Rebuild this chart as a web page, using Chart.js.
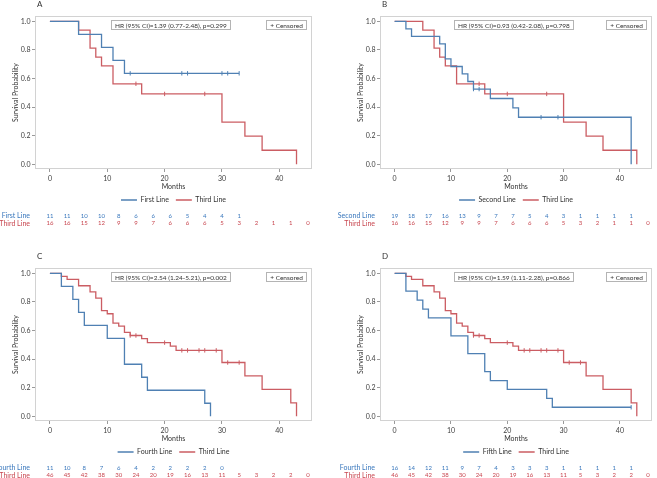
<!DOCTYPE html>
<html>
<head>
<meta charset="utf-8">
<script src="https://cdn.jsdelivr.net/npm/chart.js@4.4.1/dist/chart.umd.min.js"></script>
<style>
  html, body { margin: 0; padding: 0; background: #fff; }
  body { width: 657px; height: 478px; overflow: hidden; position: relative; }
  canvas { position: absolute; }
</style>
</head>
<body>
<canvas id="panelA" width="330" height="238" style="left:0;top:0"></canvas>
<canvas id="panelB" width="330" height="238" style="left:327px;top:0"></canvas>
<canvas id="panelC" width="330" height="238" style="left:0;top:252px"></canvas>
<canvas id="panelD" width="330" height="238" style="left:327px;top:252px"></canvas>
<script>
// shared axes
const xTicks = [0, 10, 20, 30, 40];
const yTicks = [0, 0.2, 0.4, 0.6, 0.8, 1.0];
const riskMonths = [0, 3, 6, 9, 12, 15, 18, 21, 24, 27, 30, 33, 36, 39, 42, 45];

// panel A - first line
const firstLineTimes = [0, 5, 9, 11, 13, 33];
const firstLineSurv = [1, 0.909, 0.818, 0.727, 0.636, 0.636];
const firstLineCensor = [14, 23, 24, 30, 31, 33];
const firstLineRisk = [11, 11, 10, 10, 8, 6, 6, 6, 5, 4, 4, 1];

// panels A/B - third line (n=16)
const thirdLineTimes = [0, 5, 7, 8, 9, 11, 16, 30, 34, 37, 43];
const thirdLineSurv = [1, 0.938, 0.813, 0.75, 0.688, 0.563, 0.492, 0.295, 0.197, 0.098, 0];
const thirdLineCensor = [15, 20, 27];
const thirdLineRisk = [16, 16, 15, 12, 9, 9, 7, 6, 6, 6, 5, 3, 2, 1, 1, 0];

// panel B - second line
const secondLineTimes = [0, 2, 3, 8, 9, 10, 12, 13, 14, 17, 21, 22, 42];
const secondLineSurv = [1, 0.947, 0.895, 0.842, 0.737, 0.684, 0.632, 0.579, 0.526, 0.46, 0.395, 0.329, 0];
const secondLineCensor = [14, 15, 26, 29];
const secondLineRisk = [19, 18, 17, 16, 13, 9, 7, 7, 5, 4, 3, 1, 1, 1, 1];

// panel C - fourth line
const fourthLineTimes = [0, 2, 4, 5, 6, 10, 13, 16, 17, 27, 28];
const fourthLineSurv = [1, 0.909, 0.818, 0.727, 0.636, 0.545, 0.364, 0.273, 0.182, 0.091, 0];
const fourthLineCensor = [];
const fourthLineRisk = [11, 10, 8, 7, 6, 4, 2, 2, 2, 2, 0];

// panels C/D - third line (n=46)
const third46Times = [0, 2, 3, 5, 7, 8, 9, 10, 11, 12, 13, 14, 16, 17, 21, 22, 30, 34, 37, 42, 43];
const third46Surv = [1, 0.978, 0.957, 0.913, 0.87, 0.826, 0.739, 0.717, 0.652, 0.63, 0.587, 0.565, 0.543, 0.515, 0.49, 0.461, 0.376, 0.282, 0.188, 0.094, 0];
const third46Censor = [14, 15, 20, 23, 24, 26, 27, 29, 31, 33];
const third46Risk = [46, 45, 42, 38, 30, 24, 20, 19, 16, 13, 11, 5, 3, 2, 2, 0];

// panel D - fifth line
const fifthLineTimes = [0, 2, 4, 5, 6, 10, 13, 16, 17, 20, 27, 28, 42];
const fifthLineSurv = [1, 0.875, 0.813, 0.75, 0.688, 0.563, 0.438, 0.313, 0.25, 0.188, 0.125, 0.063, 0.063];
const fifthLineCensor = [42];
const fifthLineRisk = [16, 14, 12, 11, 9, 7, 4, 3, 3, 3, 1, 1, 1, 1, 1];

const FONT = "Lato, 'Open Sans', sans-serif";
const BLUE = '#4f80b3';
const RED = '#cb5d63';
const BLUE_TXT = '#3a78bd';
const RED_TXT = '#c8464f';

function stepAt(times, surv, t) {
    let s = surv[0];
    for (let i = 0; i < times.length; i++) {
        if (times[i] <= t) s = surv[i];
    }
    return s;
}

const kmExtras = {
    id: 'kmExtras',
    beforeDatasetsDraw(chart) {
        const {ctx, chartArea: ca} = chart;
        ctx.save();
        ctx.strokeStyle = '#d2d2d2';
        ctx.lineWidth = 1;
        ctx.strokeRect(Math.round(ca.left) + 0.5, Math.round(ca.top) + 0.5,
            Math.round(ca.right - ca.left) - 1, Math.round(ca.bottom - ca.top) - 1);
        ctx.restore();
    },
    afterDraw(chart, args, opts) {
        const {ctx, chartArea: ca} = chart;
        const xs = chart.scales.x;
        ctx.save();

        // panel letter
        ctx.font = `8px ${FONT}`;
        ctx.fillStyle = '#333';
        ctx.textAlign = 'left';
        ctx.textBaseline = 'middle';
        ctx.fillText(opts.letter, ca.left + 2, 4);

        // HR box and censored box
        ctx.font = `6.5px ${FONT}`;
        const boxTop = Math.round(ca.top) + 4.5;
        const boxH = 9;
        const hrW = Math.round(ctx.measureText(opts.hr).width) + 7;
        const hrX = Math.round((ca.left + ca.right) / 2 - 3 - hrW / 2) + 0.5;
        ctx.fillStyle = '#fff';
        ctx.strokeStyle = '#b4b4b4';
        ctx.lineWidth = 1;
        ctx.fillRect(hrX, boxTop, hrW, boxH);
        ctx.strokeRect(hrX, boxTop, hrW, boxH);
        ctx.fillStyle = '#333';
        ctx.textAlign = 'center';
        ctx.fillText(opts.hr, hrX + hrW / 2, boxTop + boxH / 2 + 0.5);

        const cTxt = '+ Censored';
        const cW = Math.round(ctx.measureText(cTxt).width) + 7;
        const cX = Math.round(ca.right - 6 - cW) + 0.5;
        ctx.fillStyle = '#fff';
        ctx.fillRect(cX, boxTop, cW, boxH);
        ctx.strokeRect(cX, boxTop, cW, boxH);
        ctx.fillStyle = '#333';
        ctx.fillText(cTxt, cX + cW / 2, boxTop + boxH / 2 + 0.5);

        // numbers at risk
        opts.rows.forEach((row, r) => {
            const y = ca.bottom + 47 + r * 7.3;
            ctx.fillStyle = row.color;
            ctx.font = `7px ${FONT}`;
            ctx.textAlign = 'right';
            ctx.fillText(row.label, ca.left - 5, y);
            ctx.font = `6px ${FONT}`;
            ctx.textAlign = 'center';
            row.values.forEach((v, i) => {
                ctx.fillText(String(v), xs.getPixelForValue(riskMonths[i]), y);
            });
        });
        ctx.restore();
    }
};

function buildPanel(id, panel) {
    const datasets = [];
    panel.series.forEach(s => {
        datasets.push({
            label: s.name,
            data: s.times.map((t, i) => ({x: t, y: s.surv[i]})),
            borderColor: s.color,
            backgroundColor: s.color,
            borderWidth: 1.3,
            stepped: 'before',
            pointRadius: 0,
            fill: false
        });
    });
    panel.series.forEach(s => {
        datasets.push({
            label: s.name + ' censored',
            isCensor: true,
            data: s.censor.map(t => ({x: t, y: stepAt(s.times, s.surv, t)})),
            showLine: false,
            pointStyle: 'line',
            rotation: 90,
            pointRadius: 2.2,
            borderWidth: 1,
            borderColor: s.color,
            backgroundColor: s.color
        });
    });

    const ctx = document.getElementById(id).getContext('2d');
    return new Chart(ctx, {
        type: 'line',
        data: {datasets: datasets},
        options: {
            responsive: false,
            animation: false,
            devicePixelRatio: 1,
            layout: {padding: {left: panel.padLeft, right: panel.padRight, top: 16, bottom: 24.5}},
            scales: {
                x: {
                    type: 'linear',
                    min: -2.6,
                    max: 45.7,
                    afterBuildTicks: sc => { sc.ticks = xTicks.map(v => ({value: v})); },
                    afterFit: sc => { sc.height = 20.5; },
                    grid: {drawOnChartArea: false, drawTicks: true, tickLength: 3, color: '#9a9a9a'},
                    border: {display: false},
                    ticks: {font: {size: 7, family: FONT}, color: '#404040', padding: 3, maxRotation: 0},
                    title: {display: true, text: 'Months', font: {size: 7, family: FONT}, color: '#333', padding: {top: 0, bottom: -1.5}}
                },
                y: {
                    type: 'linear',
                    min: -0.033,
                    max: 1.037,
                    afterBuildTicks: sc => { sc.ticks = yTicks.map(v => ({value: v})); },
                    afterFit: sc => { sc.width = 24; },
                    grid: {drawOnChartArea: false, drawTicks: true, tickLength: 3, color: '#9a9a9a'},
                    border: {display: false},
                    ticks: {font: {size: 7, family: FONT}, color: '#404040', padding: 1.5, callback: v => v.toFixed(1)},
                    title: {display: true, text: 'Survival Probability', font: {size: 7, family: FONT}, color: '#333', padding: {top: 1, bottom: 0}}
                }
            },
            plugins: {
                legend: {
                    position: 'bottom',
                    fullSize: false,
                    labels: {
                        boxWidth: 16,
                        boxHeight: 0,
                        padding: 7,
                        color: '#333',
                        font: {size: 7, family: FONT},
                        filter: (item, data) => !data.datasets[item.datasetIndex].isCensor
                    }
                },
                tooltip: {enabled: false},
                kmExtras: {
                    letter: panel.letter,
                    hr: panel.hr,
                    rows: panel.series.map(s => ({label: s.riskLabel, color: s.textColor, values: s.risk}))
                }
            }
        },
        plugins: [kmExtras]
    });
}

buildPanel('panelA', {
    letter: 'A', padLeft: 11, padRight: 18,
    hr: 'HR (95% CI)=1.39 (0.77-2.48), p=0.299',
    series: [
        {name: 'First Line', riskLabel: 'First Line', times: firstLineTimes, surv: firstLineSurv, censor: firstLineCensor, risk: firstLineRisk, color: BLUE, textColor: BLUE_TXT},
        {name: 'Third Line', riskLabel: 'Third Line', times: thirdLineTimes, surv: thirdLineSurv, censor: thirdLineCensor, risk: thirdLineRisk, color: RED, textColor: RED_TXT}
    ]
});

buildPanel('panelB', {
    letter: 'B', padLeft: 29, padRight: 0,
    hr: 'HR (95% CI)=0.93 (0.42-2.08), p=0.798',
    series: [
        {name: 'Second Line', riskLabel: 'Second Line', times: secondLineTimes, surv: secondLineSurv, censor: secondLineCensor, risk: secondLineRisk, color: BLUE, textColor: BLUE_TXT},
        {name: 'Third Line', riskLabel: 'Third Line', times: thirdLineTimes, surv: thirdLineSurv, censor: thirdLineCensor, risk: thirdLineRisk, color: RED, textColor: RED_TXT}
    ]
});

buildPanel('panelC', {
    letter: 'C', padLeft: 11, padRight: 18,
    hr: 'HR (95% CI)=2.54 (1.24-5.21), p=0.002',
    series: [
        {name: 'Fourth Line', riskLabel: 'Fourth Line', times: fourthLineTimes, surv: fourthLineSurv, censor: fourthLineCensor, risk: fourthLineRisk, color: BLUE, textColor: BLUE_TXT},
        {name: 'Third Line', riskLabel: 'Third Line', times: third46Times, surv: third46Surv, censor: third46Censor, risk: third46Risk, color: RED, textColor: RED_TXT}
    ]
});

buildPanel('panelD', {
    letter: 'D', padLeft: 29, padRight: 0,
    hr: 'HR (95% CI)=1.59 (1.11-2.28), p=0.866',
    series: [
        {name: 'Fifth Line', riskLabel: 'Fourth Line', times: fifthLineTimes, surv: fifthLineSurv, censor: fifthLineCensor, risk: fifthLineRisk, color: BLUE, textColor: BLUE_TXT},
        {name: 'Third Line', riskLabel: 'Third Line', times: third46Times, surv: third46Surv, censor: third46Censor, risk: third46Risk, color: RED, textColor: RED_TXT}
    ]
});
</script>
</body>
</html>
